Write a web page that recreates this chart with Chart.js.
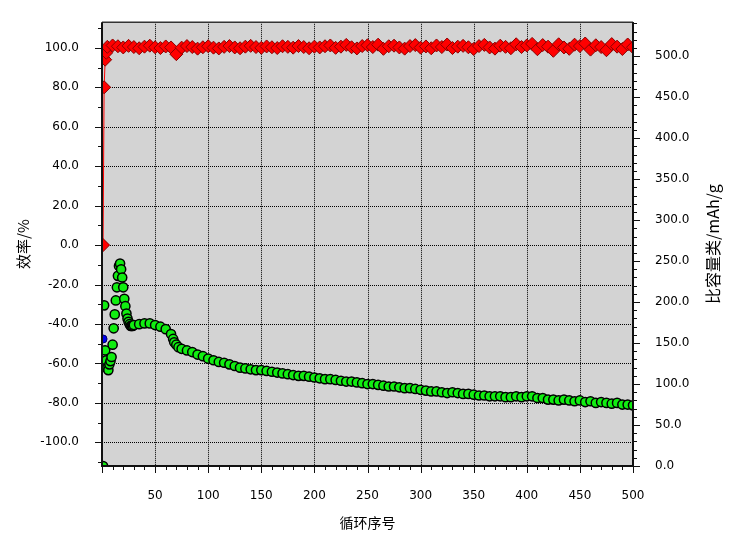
<!DOCTYPE html>
<html><head><meta charset="utf-8">
<script src="https://cdn.jsdelivr.net/npm/chart.js@4/dist/chart.umd.min.js"></script>
<style>html,body{margin:0;padding:0;background:#fff;}canvas{display:block;}</style>
</head><body>
<canvas id="c" width="733" height="533"></canvas>
<script>
// ---------- data ----------
const xAxisTitle = '循环序号';
const leftAxisTitle = '效率/%';
const rightAxisTitle = '比容量类/mAh/g';

const xTickLabels = [50,100,150,200,250,300,350,400,450,500];
const leftTickLabels = [-100,-80,-60,-40,-20,0,20,40,60,80,100];
const rightTickLabels = [0,50,100,150,200,250,300,350,400,450,500];

// coulombic efficiency (%), left axis
const efficiencyCycles = [1,2,3,4,5,10,15,20,25,30,35,40,45,50,55,60,65,70,75,80,85,90,95,100,
 105,110,115,120,125,130,135,140,145,150,155,160,165,170,175,180,185,190,195,200,
 205,210,215,220,225,230,235,240,245,250,255,260,265,270,275,280,285,290,295,300,
 305,310,315,320,325,330,335,340,345,350,355,360,365,370,375,380,385,390,395,400,
 405,410,415,420,425,430,435,440,445,450,455,460,465,470,475,480,485,490,495,500];
const efficiencyValues = [0,80,94,97.5,100.5,101.2,100.8,100.2,101.0,100.4,99.8,100.6,101.1,100.3,
 99.9,100.7,100.2,96.8,100.1,100.9,100.4,99.6,100.3,100.8,
 100.1,99.7,100.5,100.9,100.2,99.8,100.6,101.0,100.4,100.0,
 100.7,100.3,99.9,100.8,100.5,100.1,100.9,100.4,99.8,100.6,
 100.2,100.8,101.2,100.0,100.6,101.5,100.3,99.7,100.9,101.3,
 100.4,101.6,99.5,100.8,101.1,100.2,99.6,100.9,101.4,100.1,
 100.7,99.8,101.2,100.4,101.7,99.9,100.6,101.0,100.3,99.4,
 100.9,101.5,100.2,99.6,101.1,100.5,99.8,101.8,100.4,101.2,
 102.0,99.3,101.4,100.6,98.5,101.8,100.2,99.5,101.6,100.9,
 102.2,99.1,101.3,100.4,98.8,101.9,100.6,99.4,101.7,100.3];

// specific capacity (mAh/g), right axis
const capacityCycles = [1,2,3,4,5,6,7,8,9,10,11,12,13,14,15,16,17,18,19,20,21,22,23,24,25,26,27,28,29,30,
 35,40,45,50,55,60,65,67,68,70,72,75,80,85,90,95,100,
 105,110,115,120,125,130,135,140,145,150,155,160,165,170,175,180,185,190,195,200,
 205,210,215,220,225,230,235,240,245,250,255,260,265,270,275,280,285,290,295,300,
 305,310,315,320,325,330,335,340,345,350,355,360,365,370,375,380,385,390,395,400,
 405,410,415,420,425,430,435,440,445,450,455,460,465,470,475,480,485,490,495,500];
const capacityValues = [0,196,141,129,119,117,124,128,133,148,168,185,202,218,232,244,247,240,230,218,
 204,195,186,180,176,173,171,171,171,172,
 173,174,174,172,170,167,161,155,151,148,145,143,141,139,136,134,131,
 129,127,126,124,122,120,119,118,117,117,116,115,114,113,112,111,110,110,109,108,
 107,106,106,105,104,103,103,102,101,100,100,99,98,97,97,96,95,95,94,93,
 92,91,91,90,89,90,89,88,88,87,86,86,85,85,85,84,84,85,84,85,
 85,83,83,81,81,80,81,80,79,80,78,79,77,78,77,76,77,75,75,74];

const blueCycles = [1,2];
const blueValues = [155,129];

// ---------- chart ----------
const LEFT_W = 102, RIGHT_W = 100, BOTTOM_H = 67;

function stepList(a, b, s){ const r=[]; for(let v=a; v<=b+1e-9; v+=s) r.push(Math.round(v*10)/10); return r; }

const decor = {
  id:'decor',
  beforeDraw(chart){
    const {ctx, chartArea:a} = chart;
    ctx.save();
    ctx.fillStyle = '#D3D3D3';
    ctx.fillRect(a.left, a.top, a.right-a.left, a.bottom-a.top);
    ctx.restore();
  },
  beforeDatasetsDraw(chart){
    const {ctx, chartArea:a, scales} = chart;
    ctx.save();
    ctx.strokeStyle = '#000';
    ctx.lineWidth = 1;
    ctx.setLineDash([1,1]);
    xTickLabels.forEach(v=>{
      const p = Math.round(scales.x.getPixelForValue(v))+0.5;
      ctx.beginPath(); ctx.moveTo(p,a.top); ctx.lineTo(p,a.bottom); ctx.stroke();
    });
    leftTickLabels.forEach(v=>{
      const p = Math.round(scales.yL.getPixelForValue(v))+0.5;
      ctx.beginPath(); ctx.moveTo(a.left,p); ctx.lineTo(a.right,p); ctx.stroke();
    });
    ctx.restore();
  },
  afterDraw(chart){
    const {ctx, chartArea:a, scales} = chart;
    ctx.save();
    // frame
    ctx.strokeStyle = '#333';
    ctx.lineWidth = 1.5;
    ctx.beginPath(); ctx.moveTo(a.left, a.top); ctx.lineTo(a.right, a.top); ctx.stroke();
    ctx.strokeStyle = '#111';
    ctx.lineWidth = 2;
    ctx.beginPath();
    ctx.moveTo(a.left, a.top); ctx.lineTo(a.left, a.bottom); ctx.lineTo(a.right, a.bottom); ctx.lineTo(a.right, a.top);
    ctx.stroke();
    // tick marks
    ctx.lineWidth = 1;
    ctx.strokeStyle = '#111';
    stepList(0,500,10).forEach(v=>{
      const p = Math.round(scales.x.getPixelForValue(v))+0.5;
      const len = (v%50===0) ? 7 : 4;
      ctx.beginPath(); ctx.moveTo(p,a.bottom); ctx.lineTo(p,a.bottom+len); ctx.stroke();
    });
    stepList(-110,110,10).forEach(v=>{
      const p = Math.round(scales.yL.getPixelForValue(v))+0.5;
      const len = (Math.abs(v)%20===0) ? 7 : 4;
      ctx.beginPath(); ctx.moveTo(a.left,p); ctx.lineTo(a.left-len,p); ctx.stroke();
    });
    stepList(0,540,10).forEach(v=>{
      const p = Math.round(scales.yR.getPixelForValue(v))+0.5;
      const len = (v%50===0) ? 7 : 4;
      ctx.beginPath(); ctx.moveTo(a.right,p); ctx.lineTo(a.right+len,p); ctx.stroke();
    });
    // right axis title (reads bottom to top)
    ctx.fillStyle = '#000';
    ctx.font = '16px "Noto Sans CJK SC"';
    ctx.textAlign = 'center';
    ctx.textBaseline = 'middle';
    ctx.translate(713, (a.top+a.bottom)/2);
    ctx.rotate(-Math.PI/2);
    ctx.fillText(rightAxisTitle, 0, 0);
    ctx.restore();
  }
};

const tickFont = {family:'"DejaVu Sans"', size:12};

new Chart(document.getElementById('c'), {
  type:'scatter',
  data:{
    datasets:[
      {
        label:'效率',
        data: efficiencyCycles.map((c,i)=>({x:c, y:efficiencyValues[i]})),
        yAxisID:'yL',
        showLine:true,
        borderColor:'#FF0000',
        borderWidth:1,
        pointStyle:'rectRot',
        pointRadius:6.5,
        pointBackgroundColor:'#FF0000',
        pointBorderColor:'#8a0000',
        pointBorderWidth:1,
        clip:0,
        order:0
      },
      {
        label:'比容量',
        data: capacityCycles.map((c,i)=>({x:c, y:capacityValues[i]})),
        yAxisID:'yR',
        showLine:false,
        pointStyle:'circle',
        pointRadius:4.6,
        pointBackgroundColor:'#11EE11',
        pointBorderColor:'#000',
        pointBorderWidth:1.5,
        clip:0,
        order:1
      },
      {
        label:'比容量2',
        data: blueCycles.map((c,i)=>({x:c, y:blueValues[i]})),
        yAxisID:'yR',
        showLine:false,
        pointStyle:'circle',
        pointRadius:4,
        pointBackgroundColor:'#0000EE',
        pointBorderColor:'#000066',
        pointBorderWidth:1,
        clip:0,
        order:2
      }
    ]
  },
  options:{
    responsive:false,
    animation:false,
    devicePixelRatio:1,
    layout:{padding:{top:12,left:0,right:0,bottom:0}},
    plugins:{legend:{display:false}, tooltip:{enabled:false}, title:{display:false}},
    scales:{
      x:{
        type:'linear', position:'bottom', min:0, max:500,
        grid:{display:false}, border:{display:false},
        afterBuildTicks(s){ s.ticks = stepList(0,500,10).map(v=>({value:v})); },
        afterFit(s){ s.height = BOTTOM_H; },
        ticks:{autoSkip:false, maxRotation:0, minRotation:0, padding:15, color:'#000', font:tickFont,
          callback:(v)=> xTickLabels.includes(v) ? String(v) : ''},
        title:{display:true, text:xAxisTitle, color:'#000',
          font:{family:'"Noto Sans CJK SC"', size:14}, padding:{top:0,bottom:2}}
      },
      yL:{
        type:'linear', position:'left', min:-112, max:113,
        grid:{display:false}, border:{display:false},
        afterBuildTicks(s){ s.ticks = stepList(-110,110,10).map(v=>({value:v})); },
        afterFit(s){ s.width = LEFT_W; },
        ticks:{autoSkip:false, padding:15, color:'#000', font:tickFont,
          callback:(v)=> leftTickLabels.includes(v) ? v.toFixed(1) : ''},
        title:{display:true, text:leftAxisTitle, color:'#000',
          font:{family:'"Noto Sans CJK SC"', size:15}, padding:{top:14,bottom:0}}
      },
      yR:{
        type:'linear', position:'right', min:0, max:541.5,
        grid:{display:false}, border:{display:false},
        afterBuildTicks(s){ s.ticks = stepList(0,540,10).map(v=>({value:v})); },
        afterFit(s){ s.width = RIGHT_W; },
        ticks:{autoSkip:false, padding:14, color:'#000', font:tickFont,
          callback:(v)=> rightTickLabels.includes(v) ? v.toFixed(1) : ''}
      }
    }
  },
  plugins:[decor]
});
</script>
</body></html>
